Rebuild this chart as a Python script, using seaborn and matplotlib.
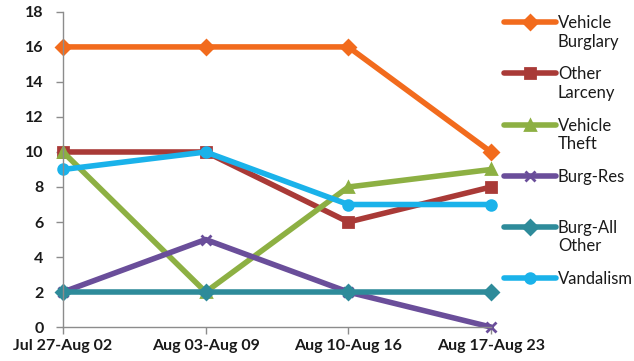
import pandas as pd
import matplotlib.pyplot as plt
import seaborn as sns
from matplotlib.legend_handler import HandlerLine2D

weeks = ['Jul 27-Aug 02', 'Aug 03-Aug 09', 'Aug 10-Aug 16', 'Aug 17-Aug 23']
vehicle_burglary = [16, 16, 16, 10]
other_larceny = [10, 10, 6, 8]
vehicle_theft = [10, 2, 8, 9]
burg_res = [2, 5, 2, 0]
burg_all_other = [2, 2, 2, 2]
vandalism = [9, 10, 7, 7]

series = {
    'Vehicle Burglary': vehicle_burglary,
    'Other Larceny': other_larceny,
    'Vehicle Theft': vehicle_theft,
    'Burg-Res': burg_res,
    'Burg-All Other': burg_all_other,
    'Vandalism': vandalism,
}
colors = {'Vehicle Burglary': '#F26B1D', 'Other Larceny': '#A93A37', 'Vehicle Theft': '#8DB043',
          'Burg-Res': '#6A4E9A', 'Burg-All Other': '#2E8B9A', 'Vandalism': '#1AB2EA'}
markers = {'Vehicle Burglary': 'D', 'Other Larceny': 's', 'Vehicle Theft': '^',
           'Burg-Res': 'x', 'Burg-All Other': 'D', 'Vandalism': 'o'}

sns.set_theme(style="white")
plt.rcParams['font.family'] = ['Lato', 'DejaVu Sans']

fig = plt.figure(figsize=(6.34, 3.61), dpi=100)
ax = fig.add_axes([0.0994, 0.094, 0.675, 0.873])
for name, vals in series.items():
    sns.lineplot(x=weeks, y=vals, color=colors[name], marker=markers[name], label=name,
                 linewidth=3.5, markersize=10, markeredgewidth=2, markeredgecolor=colors[name],
                 sort=False, ax=ax, clip_on=False)

ax.set_xlim(0, 3)
ax.set_ylim(0, 18)
ax.set_yticks(range(0, 19, 2))
ax.set_xlabel('')
ax.set_ylabel('')
for s in ['top', 'right']:
    ax.spines[s].set_visible(False)
for s in ['left', 'bottom']:
    ax.spines[s].set_color('#8c8c8c')
    ax.spines[s].set_linewidth(1)
ax.tick_params(axis='both', which='both', direction='out', length=5, color='#8c8c8c',
               bottom=True, left=True, width=1)
ax.tick_params(axis='y', pad=9)
for lab in ax.get_xticklabels() + ax.get_yticklabels():
    lab.set_fontweight('bold')
    lab.set_fontsize(11.5)
    lab.set_color('#1a1a1a')


class UpHandler(HandlerLine2D):
    def create_artists(self, legend, orig_handle, xdescent, ydescent, width, height, fontsize, trans):
        arts = super().create_artists(legend, orig_handle, xdescent, ydescent, width, height, fontsize, trans)
        for a in arts:
            a.set_ydata([y + fontsize * 0.66 for y in a.get_ydata()])
        return arts


handles, labels = ax.get_legend_handles_labels()
new_labels = {'Vehicle Burglary': 'Vehicle\nBurglary', 'Other Larceny': 'Other\nLarceny',
              'Vehicle Theft': 'Vehicle\nTheft', 'Burg-Res': 'Burg-Res\n ',
              'Burg-All Other': 'Burg-All\nOther', 'Vandalism': 'Vandalism\n '}
labs = [new_labels[l] for l in labels]
for h in handles:
    h.set_markersize(7)
    h.set_linewidth(4)
ax.get_legend().remove()
leg = fig.legend(handles, labs, loc='upper left', bbox_to_anchor=(0.772, 0.999), frameon=False,
                 fontsize=12, handlelength=3.1, handletextpad=0.1, labelspacing=0.99,
                 handler_map={h: UpHandler() for h in handles})
for t in leg.get_texts():
    t.set_color('#1a1a1a')

fig.savefig('out.png', dpi=100)
